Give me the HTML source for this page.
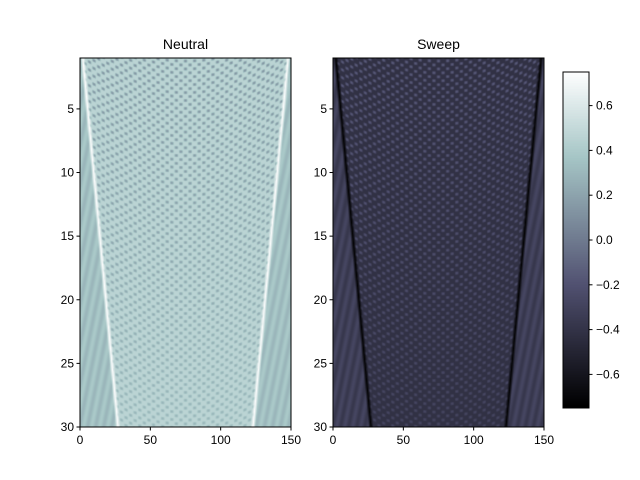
<!DOCTYPE html>
<html><head><meta charset="utf-8">
<style>
body{margin:0;background:#fff;font-family:"Liberation Sans",sans-serif;}
#wrap{position:relative;width:640px;height:480px;overflow:hidden;}
canvas{position:absolute;}
</style></head><body>
<div id="wrap">
<canvas id="c1" width="211" height="369" style="left:80px;top:58px"></canvas>
<canvas id="c2" width="211" height="369" style="left:333px;top:58px"></canvas>
<canvas id="cb" width="26" height="336" style="left:563px;top:72px"></canvas>
<svg id="ov" width="640" height="480" style="position:absolute;left:0;top:0"></svg>
</div>
<script>
// data
const xRange=[0,150];
const yRange=[1,30];
const xTicks=[0,50,100,150];
const yTicks=[5,10,15,20,25,30];
const cbTicks=[-0.6,-0.4,-0.2,0.0,0.2,0.4,0.6];
const cRange=[-0.75,0.75];
const panelTitles=["Neutral","Sweep"];
const panelBase=[0.46,-0.42];
const panelOutside=[0.34,-0.33];
const panelLine=[0.75,-0.75];
const panelAmp=[0.3,0.24];
const lineTop=[2,148];
const lineBottom=[27,123];

const panels=[{x:80,y:58,w:211,h:369,id:'c1'},{x:333,y:58,w:211,h:369,id:'c2'}];
function bone(t){
  t=Math.max(0,Math.min(1,t));
  function pl(pts){for(let i=1;i<pts.length;i++){if(t<=pts[i][0]){const a=pts[i-1],b=pts[i];return a[1]+(b[1]-a[1])*(t-a[0])/(b[0]-a[0]);}}return 1;}
  return [pl([[0,0],[0.746,0.652],[1,1]])*255,pl([[0,0],[0.365,0.319],[0.746,0.777],[1,1]])*255,pl([[0,0],[0.365,0.444],[1,1]])*255];
}
function norm(v){return (v-cRange[0])/(cRange[1]-cRange[0]);}
panels.forEach((p,pi)=>{
  const ctx=document.getElementById(p.id).getContext('2d');
  const img=ctx.createImageData(p.w,p.h);
  for(let py=0;py<p.h;py++){
    const yv=yRange[0]+(yRange[1]-yRange[0])*(py+0.5)/p.h;
    const f=(yv-yRange[0])/(yRange[1]-yRange[0]);
    const xl=lineTop[0]+(lineBottom[0]-lineTop[0])*f;
    const xr=lineTop[1]+(lineBottom[1]-lineTop[1])*f;
    for(let px=0;px<p.w;px++){
      const xv=xRange[0]+(xRange[1]-xRange[0])*(px+0.5)/p.w;
      let v;
      const dl=Math.abs(xv-xl),dr=Math.abs(xv-xr);
      if(xv<xl||xv>xr){
        v=panelOutside[pi]+0.05*Math.cos(xv*1.1+yv*2);
      } else {
        const dx=(xv-75);
        const s1=Math.cos(2*Math.PI*dx/6.5);
        const s2=Math.cos(2*Math.PI*(yv/0.62)+dx*dx/220);
        let m=Math.max(0,s1*s2);
        const w=0.6+0.6*(1-f);
        v=panelBase[pi]+(pi==0?-1:1)*panelAmp[pi]*m*w;
      }
      const d=Math.min(dl,dr);
      if(d<1.8)v=panelLine[pi]*(1-d/1.8)+v*(d/1.8);
      const c=bone(norm(v));
      const k=(py*p.w+px)*4;
      img.data[k]=c[0];img.data[k+1]=c[1];img.data[k+2]=c[2];img.data[k+3]=255;
    }
  }
  ctx.putImageData(img,0,0);
});
(function(){
  const ctx=document.getElementById('cb').getContext('2d');
  for(let y=0;y<336;y++){const c=bone(1-y/335);ctx.fillStyle=`rgb(${c[0]|0},${c[1]|0},${c[2]|0})`;ctx.fillRect(0,y,26,1);}
})();
const NS='http://www.w3.org/2000/svg';
const ov=document.getElementById('ov');
function mk(tag,attrs,name){const e=document.createElementNS(NS,tag);for(const k in attrs)e.setAttribute(k,attrs[k]);


ov.appendChild(e);return e;}
function txt(x,y,s,anchor,size,name){const t=mk('text',{x:x,y:y,'text-anchor':anchor,'font-size':size,'font-family':'Liberation Sans, sans-serif',fill:'#000'},name);t.textContent=s;return t;}
panels.forEach((p,pi)=>{
  const sx=v=>p.x+(v-xRange[0])/(xRange[1]-xRange[0])*p.w;
  const sy=v=>p.y+(v-yRange[0])/(yRange[1]-yRange[0])*p.h;
  mk('rect',{x:p.x,y:p.y,width:p.w,height:p.h,fill:'none',stroke:'#000','stroke-width':1},'axes-frame');
  xTicks.forEach(t=>{const X=sx(t);mk('line',{x1:X,y1:p.y+p.h,x2:X,y2:p.y+p.h+3.5,stroke:'#000'},'x-tick');txt(X,p.y+p.h+17,String(t),'middle',12,'x-tick-label');});
  yTicks.forEach(t=>{const Y=sy(t);mk('line',{x1:p.x,y1:Y,x2:p.x-3.5,y2:Y,stroke:'#000'},'y-tick');txt(p.x-6,Y+4,String(t),'end',12,'y-tick-label');});
  txt(p.x+p.w/2,p.y-9,panelTitles[pi],'middle',14,'panel-title');
});
mk('rect',{x:563,y:72,width:26,height:336,fill:'none',stroke:'#000'},'colorbar-frame');
cbTicks.forEach(t=>{const Y=72+(cRange[1]-t)/(cRange[1]-cRange[0])*336;mk('line',{x1:589,y1:Y,x2:592.5,y2:Y,stroke:'#000'},'colorbar-tick');txt(596,Y+4,(t<0?'\u2212':'')+Math.abs(t).toFixed(1),'start',12,'colorbar-tick-label');});
</script>
</body></html>
